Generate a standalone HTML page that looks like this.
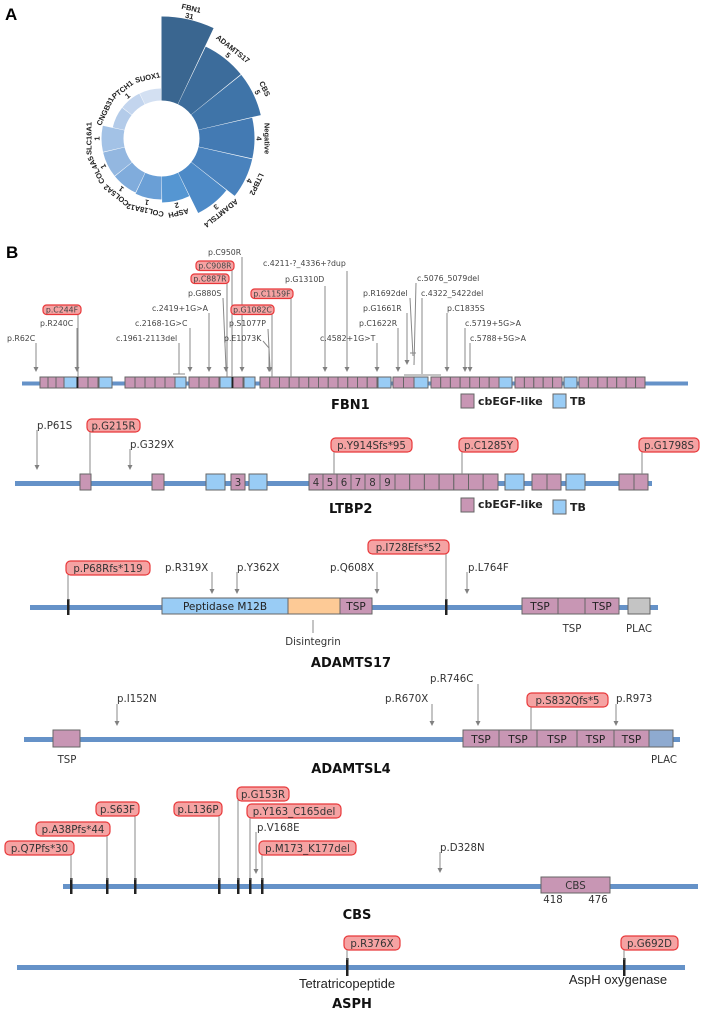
<!DOCTYPE html>
<html><head><meta charset="utf-8"><style>
html,body{margin:0;padding:0;background:#fff;}
svg{display:block;}
.l{font-family:"DejaVu Sans",sans-serif;font-size:7.8px;fill:#444;}
.m{font-family:"DejaVu Sans",sans-serif;font-size:10.2px;fill:#333;}
.d{font-family:"DejaVu Sans",sans-serif;font-size:10.5px;fill:#222;}
.t{font-family:"DejaVu Sans",sans-serif;font-size:13px;font-weight:bold;fill:#111;}
.lg{font-family:"DejaVu Sans",sans-serif;font-size:11px;font-weight:bold;fill:#222;}
.c{font-family:"Liberation Sans",sans-serif;font-size:7.5px;font-weight:bold;fill:#222;}
.a{font-family:"Liberation Sans",sans-serif;font-size:13px;fill:#222;}
.pk{fill:#c896b4;stroke:#666;stroke-width:1;}
.bl{fill:#99ccf5;stroke:#666;stroke-width:1;}
.rl{fill:#f5a3a3;stroke:#e8383a;stroke-width:1.2;}
.ln{stroke:#888;stroke-width:1;fill:none;}
.ah{fill:#808080;}
.bb{fill:#6592c8;}
.mk{fill:#222;}
</style></head><body>
<svg width="701" height="1014" viewBox="0 0 701 1014" xmlns="http://www.w3.org/2000/svg">
<text x="5" y="20" font-family="Liberation Sans" font-weight="bold" font-size="17" fill="#000">A</text>
<text x="6" y="258" font-family="Liberation Sans" font-weight="bold" font-size="17" fill="#000">B</text>

<!-- Radial chart -->
<g fill="none">
<circle cx="161.5" cy="138.5" r="80" stroke="#3a6690" stroke-width="84" stroke-dasharray="35.3 600" transform="rotate(-90 161.5 138.5)"/>
<circle cx="161.5" cy="138.5" r="70" stroke="#3c6c9b" stroke-width="64" stroke-dasharray="30.9 600" transform="rotate(-64.29 161.5 138.5)"/>
<circle cx="161.5" cy="138.5" r="70" stroke="#3f74a8" stroke-width="64" stroke-dasharray="30.9 600" transform="rotate(-38.57 161.5 138.5)"/>
<circle cx="161.5" cy="138.5" r="65.5" stroke="#437ab3" stroke-width="55" stroke-dasharray="28.9 600" transform="rotate(-12.86 161.5 138.5)"/>
<circle cx="161.5" cy="138.5" r="65.5" stroke="#4982bd" stroke-width="55" stroke-dasharray="28.9 600" transform="rotate(12.86 161.5 138.5)"/>
<circle cx="161.5" cy="138.5" r="60.5" stroke="#4d8ac7" stroke-width="45" stroke-dasharray="26.6 600" transform="rotate(38.57 161.5 138.5)"/>
<circle cx="161.5" cy="138.5" r="51" stroke="#5596d2" stroke-width="26" stroke-dasharray="22.4 600" transform="rotate(64.29 161.5 138.5)"/>
<circle cx="161.5" cy="138.5" r="49.5" stroke="#6a9fd6" stroke-width="23" stroke-dasharray="21.7 600" transform="rotate(90 161.5 138.5)"/>
<circle cx="161.5" cy="138.5" r="49" stroke="#80acdc" stroke-width="22" stroke-dasharray="21.5 600" transform="rotate(115.71 161.5 138.5)"/>
<circle cx="161.5" cy="138.5" r="49" stroke="#93b7e0" stroke-width="22" stroke-dasharray="21.5 600" transform="rotate(141.43 161.5 138.5)"/>
<circle cx="161.5" cy="138.5" r="49" stroke="#a3c2e6" stroke-width="22" stroke-dasharray="21.5 600" transform="rotate(167.14 161.5 138.5)"/>
<circle cx="161.5" cy="138.5" r="44" stroke="#b3cbe9" stroke-width="12" stroke-dasharray="19.3 600" transform="rotate(192.86 161.5 138.5)"/>
<circle cx="161.5" cy="138.5" r="44" stroke="#c3d5ee" stroke-width="12" stroke-dasharray="19.3 600" transform="rotate(218.57 161.5 138.5)"/>
<circle cx="161.5" cy="138.5" r="44" stroke="#d3e0f2" stroke-width="12" stroke-dasharray="19.3 600" transform="rotate(244.29 161.5 138.5)"/>
</g>
<g text-anchor="middle" class="c">
<g transform="translate(161.5 138.5) rotate(12.86)"><text class="c" y="-131">FBN1</text><text class="c" y="-123">31</text></g>
<g transform="translate(161.5 138.5) rotate(38.57)"><text class="c" y="-112">ADAMTS17</text><text class="c" y="-104">5</text></g>
<g transform="translate(161.5 138.5) rotate(64.29)"><text class="c" y="-112">CBS</text><text class="c" y="-104">5</text></g>
<g transform="translate(161.5 138.5) rotate(90)"><text class="c" y="-103">Negative</text><text class="c" y="-95">4</text></g>
<g transform="translate(161.5 138.5) rotate(115.71)"><text class="c" y="-103">LTBP2</text><text class="c" y="-95">4</text></g>
<g transform="translate(161.5 138.5) rotate(141.43)"><text class="c" y="-93">ADAMTSL4</text><text class="c" y="-85">3</text></g>
<g transform="translate(161.5 138.5) rotate(167.14)"><text class="c" y="-74">ASPH</text><text class="c" y="-66">2</text></g>
<g transform="translate(161.5 138.5) rotate(192.86)"><text class="c" y="-71">COL18A12</text><text class="c" y="-63">1</text></g>
<g transform="translate(161.5 138.5) rotate(218.57)"><text class="c" y="-70">COL5A2</text><text class="c" y="-62">1</text></g>
<g transform="translate(161.5 138.5) rotate(244.29)"><text class="c" y="-70">COL4A5</text><text class="c" y="-62">1</text></g>
<g transform="translate(161.5 138.5) rotate(270)"><text class="c" y="-70">SLC16A1</text><text class="c" y="-62">1</text></g>
<g transform="translate(161.5 138.5) rotate(295.71)"><text class="c" y="-60">CNGB31</text></g>
<g transform="translate(161.5 138.5) rotate(321.43)"><text class="c" y="-60">PTCH1</text><text class="c" y="-52">1</text></g>
<g transform="translate(161.5 138.5) rotate(347.14)"><text class="c" y="-60">SUOX1</text></g>
</g>

<!-- FBN1 -->
<rect class="bb" x="22" y="381.5" width="666" height="4"/>
<g>
<rect class="pk" x="40" y="377" width="8" height="11"/><rect class="pk" x="48" y="377" width="8" height="11"/><rect class="pk" x="56" y="377" width="8" height="11"/>
<rect class="bl" x="64" y="377" width="13" height="11"/>
<rect class="pk" x="78" y="377" width="10" height="11"/><rect class="pk" x="88" y="377" width="10" height="11"/>
<rect class="bl" x="99" y="377" width="13" height="11"/>
<rect class="pk" x="125" y="377" width="10" height="11"/><rect class="pk" x="135" y="377" width="10" height="11"/><rect class="pk" x="145" y="377" width="10" height="11"/><rect class="pk" x="155" y="377" width="10" height="11"/><rect class="pk" x="165" y="377" width="10" height="11"/>
<rect class="bl" x="175" y="377" width="11" height="11"/>
<rect class="pk" x="189" y="377" width="10" height="11"/><rect class="pk" x="199" y="377" width="10" height="11"/><rect class="pk" x="209" y="377" width="10" height="11"/>
<rect class="bl" x="220" y="377" width="12" height="11"/>
<rect class="pk" x="233" y="377" width="10" height="11"/>
<rect class="bl" x="244" y="377" width="11" height="11"/>
<rect class="pk" x="260" y="377" width="9.75" height="11"/><rect class="pk" x="269.75" y="377" width="9.75" height="11"/><rect class="pk" x="279.5" y="377" width="9.75" height="11"/><rect class="pk" x="289.25" y="377" width="9.75" height="11"/><rect class="pk" x="299" y="377" width="9.75" height="11"/><rect class="pk" x="308.75" y="377" width="9.75" height="11"/><rect class="pk" x="318.5" y="377" width="9.75" height="11"/><rect class="pk" x="328.25" y="377" width="9.75" height="11"/><rect class="pk" x="338" y="377" width="9.75" height="11"/><rect class="pk" x="347.75" y="377" width="9.75" height="11"/><rect class="pk" x="357.5" y="377" width="9.75" height="11"/><rect class="pk" x="367.25" y="377" width="9.75" height="11"/>
<rect class="bl" x="378" y="377" width="13" height="11"/>
<rect class="pk" x="393" y="377" width="10.5" height="11"/><rect class="pk" x="403.5" y="377" width="10.5" height="11"/>
<rect class="bl" x="414" y="377" width="14" height="11"/>
<rect class="pk" x="431" y="377" width="9.7" height="11"/><rect class="pk" x="440.7" y="377" width="9.7" height="11"/><rect class="pk" x="450.4" y="377" width="9.7" height="11"/><rect class="pk" x="460.1" y="377" width="9.7" height="11"/><rect class="pk" x="469.8" y="377" width="9.7" height="11"/><rect class="pk" x="479.5" y="377" width="9.7" height="11"/><rect class="pk" x="489.2" y="377" width="9.8" height="11"/>
<rect class="bl" x="499" y="377" width="13" height="11"/>
<rect class="pk" x="515" y="377" width="9.4" height="11"/><rect class="pk" x="524.4" y="377" width="9.4" height="11"/><rect class="pk" x="533.8" y="377" width="9.4" height="11"/><rect class="pk" x="543.2" y="377" width="9.4" height="11"/><rect class="pk" x="552.6" y="377" width="9.4" height="11"/>
<rect class="bl" x="564" y="377" width="13" height="11"/>
<rect class="pk" x="579" y="377" width="9.43" height="11"/><rect class="pk" x="588.43" y="377" width="9.43" height="11"/><rect class="pk" x="597.86" y="377" width="9.43" height="11"/><rect class="pk" x="607.29" y="377" width="9.43" height="11"/><rect class="pk" x="616.71" y="377" width="9.43" height="11"/><rect class="pk" x="626.14" y="377" width="9.43" height="11"/><rect class="pk" x="635.57" y="377" width="9.43" height="11"/>
<rect class="mk" x="76.5" y="377" width="1.8" height="11"/><rect class="mk" x="231.5" y="377" width="1.8" height="11"/>
</g>
<!-- FBN1 connectors -->
<g class="ln">
<path d="M36 343V368"/><path d="M77 328V368"/><path d="M78 314V377"/>
<path d="M179 343V374M173 374H185"/><path d="M190 328V368"/><path d="M209 313V368"/>
<path d="M223 298L226 368"/><path d="M227 283V377"/><path d="M232 270V377"/><path d="M242 257V368"/>
<path d="M347 271V368"/><path d="M325 286V368"/><path d="M291 298V377"/><path d="M272 314V377"/>
<path d="M268 329L270 368"/><path d="M263 341L269 348V368"/>
<path d="M377 343V368"/><path d="M398 328V368"/><path d="M407 313V360"/><path d="M410 298L413 356M410 353H416"/>
<path d="M416 283L414 365"/><path d="M422 298V374M404 375H441"/>
<path d="M447 313V368"/><path d="M465 328V368"/><path d="M470 343V368"/>
</g>
<g class="ah">
<polygon points="33.5,367 38.5,367 36,372"/><polygon points="74.5,367 79.5,367 77,372"/><polygon points="187.5,367 192.5,367 190,372"/><polygon points="206.5,367 211.5,367 209,372"/><polygon points="223.5,367 228.5,367 226,372"/><polygon points="239.5,367 244.5,367 242,372"/><polygon points="344.5,367 349.5,367 347,372"/><polygon points="322.5,367 327.5,367 325,372"/><polygon points="267.5,367 272.5,367 270,372"/><polygon points="266.5,367 271.5,367 269,372"/><polygon points="374.5,367 379.5,367 377,372"/><polygon points="395.5,367 400.5,367 398,372"/><polygon points="404.5,360 409.5,360 407,365"/><polygon points="444.5,367 449.5,367 447,372"/><polygon points="462.5,367 467.5,367 465,372"/><polygon points="467.5,367 472.5,367 470,372"/>
</g>
<g>
<text class="l" x="7" y="341">p.R62C</text>
<text class="l" x="40" y="326">p.R240C</text>
<rect class="rl" x="43" y="305" width="38" height="9.5" rx="3.5"/><text class="l" x="62" y="312.5" text-anchor="middle">p.C244F</text>
<text class="l" x="116" y="341">c.1961-2113del</text>
<text class="l" x="135" y="326">c.2168-1G&gt;C</text>
<text class="l" x="152" y="311">c.2419+1G&gt;A</text>
<text class="l" x="188" y="296">p.G880S</text>
<rect class="rl" x="191" y="274" width="38" height="9.5" rx="3.5"/><text class="l" x="210" y="281.5" text-anchor="middle">p.C887R</text>
<rect class="rl" x="196" y="261" width="38" height="9.5" rx="3.5"/><text class="l" x="215" y="268.5" text-anchor="middle">p.C908R</text>
<text class="l" x="208" y="255">p.C950R</text>
<text class="l" x="263" y="266">c.4211-?_4336+?dup</text>
<text class="l" x="285" y="282">p.G1310D</text>
<rect class="rl" x="251" y="289" width="42" height="9.5" rx="3.5"/><text class="l" x="272" y="296.5" text-anchor="middle">p.C1159F</text>
<rect class="rl" x="231" y="305" width="43" height="9.5" rx="3.5"/><text class="l" x="252.5" y="312.5" text-anchor="middle">p.G1082C</text>
<text class="l" x="229" y="326">p.S1077P</text>
<text class="l" x="224" y="341">p.E1073K</text>
<text class="l" x="320" y="341">c.4582+1G&gt;T</text>
<text class="l" x="359" y="326">p.C1622R</text>
<text class="l" x="363" y="311">p.G1661R</text>
<text class="l" x="363" y="296">p.R1692del</text>
<text class="l" x="417" y="281">c.5076_5079del</text>
<text class="l" x="421" y="296">c.4322_5422del</text>
<text class="l" x="447" y="311">p.C1835S</text>
<text class="l" x="465" y="326">c.5719+5G&gt;A</text>
<text class="l" x="470" y="341">c.5788+5G&gt;A</text>
</g>
<text class="t" x="331" y="409">FBN1</text>
<rect class="pk" x="461" y="394" width="13" height="14"/><text class="lg" x="478" y="405">cbEGF-like</text>
<rect class="bl" x="553" y="394" width="13" height="14"/><text class="lg" x="570" y="405">TB</text>

<!-- LTBP2 -->
<rect class="bb" x="15" y="481" width="637" height="5"/>
<g>
<rect class="pk" x="80" y="474" width="11" height="16"/>
<rect class="pk" x="152" y="474" width="12" height="16"/>
<rect class="bl" x="206" y="474" width="19" height="16"/>
<rect class="pk" x="231" y="474" width="14" height="16"/>
<rect class="bl" x="249" y="474" width="18" height="16"/>
<rect class="pk" x="309" y="474" width="14" height="16"/><rect class="pk" x="323" y="474" width="14" height="16"/><rect class="pk" x="337" y="474" width="14" height="16"/><rect class="pk" x="351" y="474" width="14" height="16"/><rect class="pk" x="365" y="474" width="15" height="16"/><rect class="pk" x="380" y="474" width="15" height="16"/>
<rect class="pk" x="395" y="474" width="14.7" height="16"/><rect class="pk" x="409.7" y="474" width="14.7" height="16"/><rect class="pk" x="424.4" y="474" width="14.7" height="16"/><rect class="pk" x="439.1" y="474" width="14.7" height="16"/><rect class="pk" x="453.8" y="474" width="14.7" height="16"/><rect class="pk" x="468.5" y="474" width="14.7" height="16"/><rect class="pk" x="483.2" y="474" width="14.8" height="16"/>
<rect class="bl" x="505" y="474" width="19" height="16"/>
<rect class="pk" x="532" y="474" width="15" height="16"/><rect class="pk" x="547" y="474" width="14" height="16"/>
<rect class="bl" x="566" y="474" width="19" height="16"/>
<rect class="pk" x="619" y="474" width="15" height="16"/><rect class="pk" x="634" y="474" width="14" height="16"/>
</g>
<g class="m" text-anchor="middle"><text x="238" y="486">3</text><text x="316" y="486">4</text><text x="330" y="486">5</text><text x="344" y="486">6</text><text x="358" y="486">7</text><text x="372.5" y="486">8</text><text x="387.5" y="486">9</text></g>
<g class="ln"><path d="M37 430V466"/><path d="M90 432V474"/><path d="M130 449V466"/><path d="M334 452V474"/><path d="M462 452V474"/><path d="M642 452V474"/></g>
<g class="ah"><polygon points="34.5,465 39.5,465 37,470"/><polygon points="127.5,465 132.5,465 130,470"/></g>
<text class="m" x="37" y="429">p.P61S</text>
<rect class="rl" x="87" y="419" width="53" height="13" rx="4.5"/><text class="m" x="113.5" y="429.5" text-anchor="middle">p.G215R</text>
<text class="m" x="130" y="448">p.G329X</text>
<rect class="rl" x="331" y="438" width="81" height="14" rx="4.5"/><text class="m" x="371.5" y="449" text-anchor="middle">p.Y914Sfs*95</text>
<rect class="rl" x="459" y="438" width="59" height="14" rx="4.5"/><text class="m" x="488.5" y="449" text-anchor="middle">p.C1285Y</text>
<rect class="rl" x="639" y="438" width="60" height="14" rx="4.5"/><text class="m" x="669" y="449" text-anchor="middle">p.G1798S</text>
<text class="t" x="329" y="513">LTBP2</text>
<rect class="pk" x="461" y="498" width="13" height="14"/><text class="lg" x="478" y="508">cbEGF-like</text>
<rect class="bl" x="553" y="500" width="13" height="14"/><text class="lg" x="570" y="511">TB</text>

<!-- ADAMTS17 -->
<rect class="bb" x="30" y="605" width="628" height="5"/>
<rect x="162" y="598" width="126" height="16" fill="#99ccf5" stroke="#666"/>
<rect x="288" y="598" width="52" height="16" fill="#fdca96" stroke="#666"/>
<rect class="pk" x="340" y="598" width="32" height="16"/>
<rect class="pk" x="522" y="598" width="36" height="16"/><rect class="pk" x="558" y="598" width="27" height="16"/><rect class="pk" x="585" y="598" width="34" height="16"/>
<rect x="628" y="598" width="22" height="16" fill="#c4c4c4" stroke="#666"/>
<g class="d" text-anchor="middle"><text x="225" y="610">Peptidase M12B</text><text x="356" y="610">TSP</text><text x="540" y="610">TSP</text><text x="602" y="610">TSP</text></g>
<rect class="mk" x="67" y="599" width="2.5" height="16"/><rect class="mk" x="445" y="599" width="2.5" height="16"/>
<g class="ln"><path d="M68 575V600"/><path d="M446 554V600"/><path d="M212 572V590"/><path d="M237 572V590"/><path d="M377 572V590"/><path d="M467 572V590"/><path d="M313 620V633"/></g>
<g class="ah"><polygon points="209.5,589 214.5,589 212,594"/><polygon points="234.5,589 239.5,589 237,594"/><polygon points="374.5,589 379.5,589 377,594"/><polygon points="464.5,589 469.5,589 467,594"/></g>
<rect class="rl" x="66" y="561" width="84" height="14" rx="4.5"/><text class="m" x="108" y="572" text-anchor="middle">p.P68Rfs*119</text>
<text class="m" x="165" y="571">p.R319X</text>
<text class="m" x="237" y="571">p.Y362X</text>
<text class="m" x="330" y="571">p.Q608X</text>
<rect class="rl" x="368" y="540" width="81" height="14" rx="4.5"/><text class="m" x="408.5" y="551" text-anchor="middle">p.I728Efs*52</text>
<text class="m" x="468" y="571">p.L764F</text>
<g class="m" text-anchor="middle"><text x="572" y="632">TSP</text><text x="639" y="632">PLAC</text><text x="313" y="645">Disintegrin</text></g>
<text class="t" x="351" y="667" text-anchor="middle">ADAMTS17</text>

<!-- ADAMTSL4 -->
<rect class="bb" x="24" y="737" width="656" height="5"/>
<rect class="pk" x="53" y="730" width="27" height="17"/>
<rect class="pk" x="463" y="730" width="36" height="17"/><rect class="pk" x="499" y="730" width="38" height="17"/><rect class="pk" x="537" y="730" width="40" height="17"/><rect class="pk" x="577" y="730" width="37" height="17"/><rect class="pk" x="614" y="730" width="35" height="17"/>
<rect x="649" y="730" width="24" height="17" fill="#8eaad0" stroke="#666"/>
<g class="d" text-anchor="middle"><text x="481" y="743">TSP</text><text x="518" y="743">TSP</text><text x="557" y="743">TSP</text><text x="595.5" y="743">TSP</text><text x="631.5" y="743">TSP</text></g>
<g class="ln"><path d="M117 704V722"/><path d="M432 704V722"/><path d="M478 684V722"/><path d="M531 707V730"/><path d="M616 704V722"/></g>
<g class="ah"><polygon points="114.5,721 119.5,721 117,726"/><polygon points="429.5,721 434.5,721 432,726"/><polygon points="475.5,721 480.5,721 478,726"/><polygon points="613.5,721 618.5,721 616,726"/></g>
<text class="m" x="117" y="702">p.I152N</text>
<text class="m" x="385" y="702">p.R670X</text>
<text class="m" x="430" y="682">p.R746C</text>
<rect class="rl" x="527" y="693" width="81" height="14" rx="4.5"/><text class="m" x="567.5" y="704" text-anchor="middle">p.S832Qfs*5</text>
<text class="m" x="616" y="702">p.R973</text>
<g class="m" text-anchor="middle"><text x="67" y="763">TSP</text><text x="664" y="763">PLAC</text></g>
<text class="t" x="351" y="773" text-anchor="middle">ADAMTSL4</text>

<!-- CBS -->
<rect class="bb" x="63" y="884" width="635" height="5"/>
<rect class="pk" x="541" y="877" width="69" height="16"/><text class="m" x="575.5" y="889" text-anchor="middle">CBS</text>
<g class="m" text-anchor="middle"><text x="553" y="903">418</text><text x="598" y="903">476</text></g>
<g class="mk"><rect x="70" y="878" width="2.5" height="16"/><rect x="106" y="878" width="2.5" height="16"/><rect x="134" y="878" width="2.5" height="16"/><rect x="218" y="878" width="2.5" height="16"/><rect x="237" y="878" width="2.5" height="16"/><rect x="249" y="878" width="2.5" height="16"/><rect x="261" y="878" width="2.5" height="16"/></g>
<g class="ln"><path d="M71 855V880"/><path d="M107 835V880"/><path d="M135 815V880"/><path d="M219 815V880"/><path d="M238 800V880"/><path d="M250 817V880"/><path d="M256 832V869"/><path d="M262 855V880"/><path d="M440 852V869"/></g>
<g class="ah"><polygon points="253.5,869 258.5,869 256,874"/><polygon points="437.5,868 442.5,868 440,873"/></g>
<rect class="rl" x="5" y="841" width="69" height="14" rx="4.5"/><text class="m" x="39.5" y="852" text-anchor="middle">p.Q7Pfs*30</text>
<rect class="rl" x="36" y="822" width="74" height="14" rx="4.5"/><text class="m" x="73" y="833" text-anchor="middle">p.A38Pfs*44</text>
<rect class="rl" x="96" y="802" width="43" height="14" rx="4.5"/><text class="m" x="117.5" y="813" text-anchor="middle">p.S63F</text>
<rect class="rl" x="174" y="802" width="48" height="14" rx="4.5"/><text class="m" x="198" y="813" text-anchor="middle">p.L136P</text>
<rect class="rl" x="237" y="787" width="52" height="14" rx="4.5"/><text class="m" x="263" y="798" text-anchor="middle">p.G153R</text>
<rect class="rl" x="247" y="804" width="94" height="14" rx="4.5"/><text class="m" x="294" y="815" text-anchor="middle">p.Y163_C165del</text>
<text class="m" x="257" y="831">p.V168E</text>
<rect class="rl" x="259" y="841" width="97" height="14" rx="4.5"/><text class="m" x="307.5" y="852" text-anchor="middle">p.M173_K177del</text>
<text class="m" x="440" y="851">p.D328N</text>
<text class="t" x="357" y="919" text-anchor="middle">CBS</text>

<!-- ASPH -->
<rect class="bb" x="17" y="965" width="668" height="5"/>
<rect class="mk" x="346" y="958" width="2.5" height="18"/><rect class="mk" x="623" y="958" width="2.5" height="18"/>
<g class="ln"><path d="M347 950V960"/><path d="M624 950V960"/></g>
<rect class="rl" x="344" y="936" width="56" height="14" rx="4.5"/><text class="m" x="372" y="947" text-anchor="middle">p.R376X</text>
<rect class="rl" x="621" y="936" width="57" height="14" rx="4.5"/><text class="m" x="649.5" y="947" text-anchor="middle">p.G692D</text>
<text class="a" x="347" y="988" text-anchor="middle">Tetratricopeptide</text>
<text class="a" x="618" y="984" text-anchor="middle">AspH oxygenase</text>
<text class="t" x="352" y="1008" text-anchor="middle">ASPH</text>
</svg>
</body></html>
